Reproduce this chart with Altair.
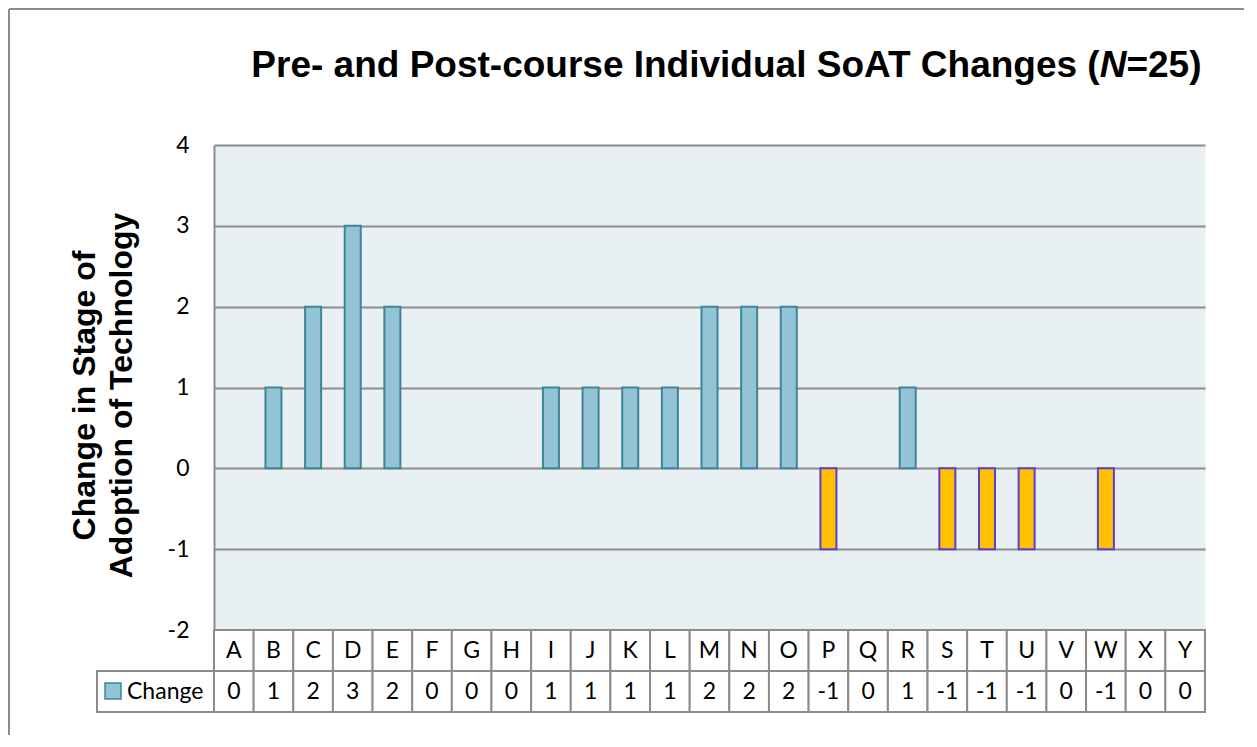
import altair as alt
import pandas as pd

# ---- data ----
categories = list("ABCDEFGHIJKLMNOPQRSTUVWXY")
changes = [0, 1, 2, 3, 2, 0, 0, 0, 1, 1, 1, 1, 2, 2, 2, -1, 0, 1, -1, -1, -1, 0, -1, 0, 0]
y_ticks = [-2, -1, 0, 1, 2, 3, 4]
series_name = "Change"
table_rows = ["cat", "val"]
title_parts = ["Pre- and Post-course Individual SoAT Changes (", "N", "=25)"]
y_title = ["Change in Stage of", "Adoption of Technology"]

W, H = 991, 485
ROW_H = 82
GRAY = "#8C8C8C"
POS_FILL, POS_STROKE = "#93C4D6", "#3E8599"
NEG_FILL, NEG_STROKE = "#FFC000", "#5B3FD0"
LABEL_FONT = "Lato"
TITLE_FONT = "Liberation Sans"
LABEL_SIZE = 23
TITLE_SIZE = 37

df = pd.DataFrame({"cat": categories, "value": changes})
tbl = pd.DataFrame({
    "cat": categories * 2,
    "row": ["cat"] * len(categories) + ["val"] * len(categories),
    "label": categories + [str(v) for v in changes],
})
one = pd.DataFrame({"row": ["val"], "name": [series_name]})

xenc = alt.X("cat:N", sort=categories,
             scale=alt.Scale(domain=categories, paddingInner=0, paddingOuter=0),
             axis=None)
yrow = alt.Y("row:N", sort=table_rows,
             scale=alt.Scale(domain=table_rows, range=[H, H + ROW_H],
                             paddingInner=0, paddingOuter=0),
             axis=None)

# outer frame (left and top edges)
frame_left = alt.Chart(one).mark_rule(color=GRAY, strokeWidth=2).encode(
    x=alt.value(-205), y=alt.value(-136), y2=alt.value(590))
frame_top = alt.Chart(one).mark_rule(color=GRAY, strokeWidth=2).encode(
    x=alt.value(-205), x2=alt.value(1030), y=alt.value(-136))

bars = alt.Chart(df).transform_filter("datum.value != 0").mark_bar(
    size=16, strokeWidth=2
).encode(
    x=xenc,
    y=alt.Y("value:Q", scale=alt.Scale(domain=[-2, 4], nice=False, zero=False),
            axis=alt.Axis(values=y_ticks, title=y_title, grid=True,
                          labelExpr="datum.value + ''",
                          gridColor=GRAY, gridWidth=2, gridOpacity=1,
                          domain=True, domainColor=GRAY, domainWidth=2,
                          ticks=False, tickSize=0,
                          labelFont=LABEL_FONT, labelFontSize=LABEL_SIZE,
                          labelColor="#000000", labelPadding=25,
                          titleFont=TITLE_FONT, titleFontSize=32,
                          titleFontWeight="bold", titleColor="#000000",
                          titleLineHeight=37, titleX=-145, titleY=250,
                          titleAlign="center", titleBaseline="top")),
    fill=alt.condition("datum.value < 0", alt.value(NEG_FILL), alt.value(POS_FILL)),
    stroke=alt.condition("datum.value < 0", alt.value(NEG_STROKE), alt.value(POS_STROKE)),
)

cells = alt.Chart(tbl).mark_rect(fill="white", stroke=GRAY, strokeWidth=2).encode(
    x=xenc, y=yrow)
cell_text = alt.Chart(tbl).mark_text(font=LABEL_FONT, fontSize=LABEL_SIZE,
                                     color="#000000").encode(
    x=xenc, y=yrow, text="label:N")

leg_cell = alt.Chart(one).mark_rect(fill="white", stroke=GRAY, strokeWidth=2).encode(
    x=alt.value(-117), x2=alt.value(0), y=yrow)
leg_box = alt.Chart(one).mark_rect(fill=POS_FILL, stroke=POS_STROKE, strokeWidth=1.5).encode(
    x=alt.value(-109), x2=alt.value(-93), y=alt.value(H + 53), y2=alt.value(H + 69))
leg_text = alt.Chart(one).mark_text(font=LABEL_FONT, fontSize=LABEL_SIZE, color="#000000",
                                    align="left").encode(
    x=alt.value(-87), y=yrow, text="name:N")

t_base = -68
n_left, n_right = 885.7, 912.4
title1 = alt.Chart(pd.DataFrame({"t": [title_parts[0]]})).mark_text(
    font=TITLE_FONT, fontSize=TITLE_SIZE, fontWeight="bold", align="right",
    baseline="alphabetic", color="#000000").encode(
    x=alt.value(n_left), y=alt.value(t_base), text="t:N")
title2 = alt.Chart(pd.DataFrame({"t": [title_parts[1]]})).mark_text(
    font=TITLE_FONT, fontSize=TITLE_SIZE, fontWeight="bold", fontStyle="italic",
    align="left", baseline="alphabetic", color="#000000").encode(
    x=alt.value(n_left), y=alt.value(t_base), text="t:N")
title3 = alt.Chart(pd.DataFrame({"t": [title_parts[2]]})).mark_text(
    font=TITLE_FONT, fontSize=TITLE_SIZE, fontWeight="bold", align="left",
    baseline="alphabetic", color="#000000").encode(
    x=alt.value(n_right), y=alt.value(t_base), text="t:N")

chart = alt.layer(
    frame_left, frame_top, bars, cells, cell_text, leg_cell, leg_box, leg_text,
    title1, title2, title3
).resolve_scale(y="independent").properties(
    width=W, height=H, padding=0, background="white"
).configure_view(fill="#E8F0F3", stroke="transparent")

chart.save("out.html", embed_options={"renderer": "svg", "actions": False})
